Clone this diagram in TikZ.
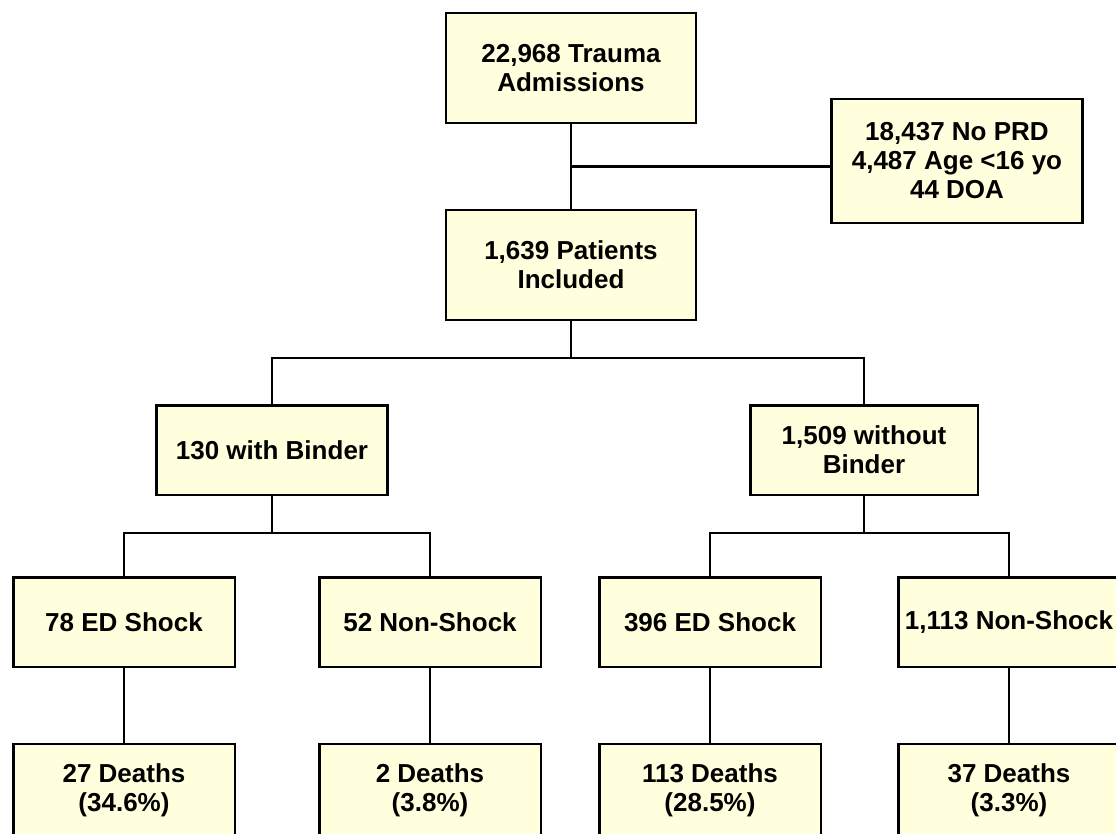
\documentclass[tikz,border=0pt]{standalone}
\usepackage{fontspec}
\setmainfont{Liberation Sans}
\usetikzlibrary{positioning,calc}
\definecolor{boxfill}{RGB}{255,255,221}

\begin{document}
\begin{tikzpicture}[x=0.02cm,y=-0.02cm,
  box/.style={draw,line width=1.4pt,fill=boxfill,align=center,inner sep=2pt,
    font=\fontsize{14.8}{16.5}\selectfont\bfseries},
  flow/.style={line width=1.3pt},
  grp/.style={box,minimum width=4.43cm,minimum height=1.79cm},
  deaths/.style={box,anchor=north,minimum width=4.43cm,inner ysep=0.38cm,text depth=1.6cm}]
  \fill[white] (0,0) rectangle (1116,833);
  \clip (0,0) rectangle (1116,833);
  % top of the chart
  \node[box,minimum width=5cm,minimum height=2.19cm] (adm) at (571,68) {22,968 Trauma\\Admissions};
  \node[box,minimum width=5.02cm,minimum height=2.49cm] (excl) at (957,161) {18,437 No PRD\\4,487 Age <16 yo\\44 DOA};
  \node[box,minimum width=5cm,minimum height=2.19cm] (inc) at (571,265) {1,639 Patients\\Included};
  % binder groups
  \node[box,minimum width=4.62cm,minimum height=1.79cm] (bind) at (272,450) {130 with Binder};
  \node[box,minimum width=4.55cm,minimum height=1.79cm] (nobind) at (864,450) {1,509 without\\Binder};
  % shock groups
  \node[grp] (eds1) at (124,622) {78 ED Shock};
  \node[grp] (non1) at (430,622) {52 Non-Shock};
  \node[grp] (eds2) at (710,622) {396 ED Shock};
  \node[grp] (non2) at (1009,622) {1,113 Non-Shock};
  % deaths
  \node[deaths] (dth1) at (124,743) {27 Deaths\\(34.6\%)};
  \node[deaths] (dth2) at (430,743) {2 Deaths\\(3.8\%)};
  \node[deaths] (dth3) at (710,743) {113 Deaths\\(28.5\%)};
  \node[deaths] (dth4) at (1009,743) {37 Deaths\\(3.3\%)};

  \draw[flow] (adm.south) -- coordinate (j0) (inc.north);
  \draw[flow] (j0) -- (excl.west |- j0);
  \draw[flow] (inc.south) -- ++(0,37) coordinate (j1);
  \draw[flow] (bind.north) |- (j1) -| (nobind.north);
  \draw[flow] (bind.south) -- ++(0,37) coordinate (j2);
  \draw[flow] (eds1.north) |- (j2) -| (non1.north);
  \draw[flow] (nobind.south) -- ++(0,37) coordinate (j3);
  \draw[flow] (eds2.north) |- (j3) -| (non2.north);
  \draw[flow] (eds1.south) -- (dth1.north);
  \draw[flow] (non1.south) -- (dth2.north);
  \draw[flow] (eds2.south) -- (dth3.north);
  \draw[flow] (non2.south) -- (dth4.north);
\end{tikzpicture}
\end{document}
